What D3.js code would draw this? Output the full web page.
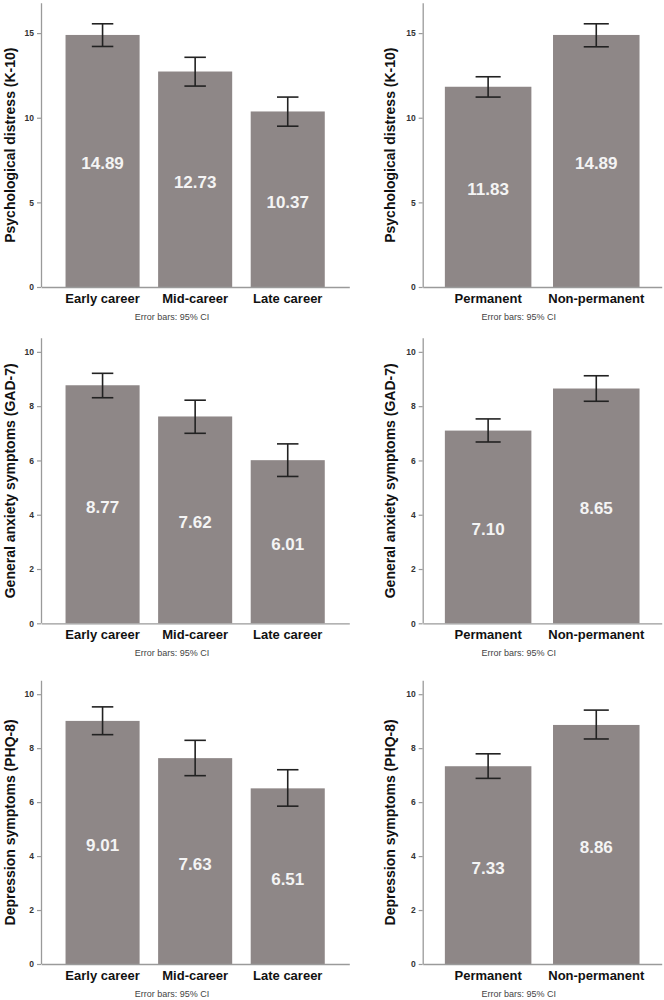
<!DOCTYPE html>
<html>
<head>
<meta charset="utf-8">
<script src="https://cdn.jsdelivr.net/npm/d3@7"></script>
<style>
  html, body { margin: 0; padding: 0; background: #ffffff; }
  svg { display: block; font-family: "Liberation Sans", Arial, sans-serif; }
</style>
</head>
<body>
<svg id="chart" width="664" height="1000"></svg>
<script>
// ---- data ----
const careerCats = ["Early career", "Mid-career", "Late career"];
const employCats = ["Permanent", "Non-permanent"];

const k10Career   = [14.89, 12.73, 10.37];
const k10CareerLo = [14.21, 11.87, 9.50];
const k10CareerHi = [15.55, 13.57, 11.22];
const k10Employ   = [11.83, 14.89];
const k10EmployLo = [11.22, 14.19];
const k10EmployHi = [12.42, 15.55];

const gadCareer   = [8.77, 7.62, 6.01];
const gadCareerLo = [8.31, 7.00, 5.41];
const gadCareerHi = [9.21, 8.22, 6.61];
const gadEmploy   = [7.10, 8.65];
const gadEmployLo = [6.68, 8.18];
const gadEmployHi = [7.53, 9.12];

const phqCareer   = [9.01, 7.63, 6.51];
const phqCareerLo = [8.50, 6.98, 5.85];
const phqCareerHi = [9.53, 8.29, 7.20];
const phqEmploy   = [7.33, 8.86];
const phqEmployLo = [6.88, 8.34];
const phqEmployHi = [7.79, 9.41];

const k10Ticks = [0, 5, 10, 15];
const symTicks = [0, 2, 4, 6, 8, 10];

const k10Title = "Psychological distress (K-10)";
const gadTitle = "General anxiety symptoms (GAD-7)";
const phqTitle = "Depression symptoms (PHQ-8)";
const footnote = "Error bars: 95% CI";

// ---- layout ----
const rows = [
  { top: 3.3,   base: 287,   max: 16.76, ticks: k10Ticks, title: k10Title,
    left:  { v: k10Career, lo: k10CareerLo, hi: k10CareerHi },
    right: { v: k10Employ, lo: k10EmployLo, hi: k10EmployHi } },
  { top: 338.3, base: 623.3, max: 10.5,  ticks: symTicks, title: gadTitle,
    left:  { v: gadCareer, lo: gadCareerLo, hi: gadCareerHi },
    right: { v: gadEmploy, lo: gadEmployLo, hi: gadEmployHi } },
  { top: 680.7, base: 964,   max: 10.5,  ticks: symTicks, title: phqTitle,
    left:  { v: phqCareer, lo: phqCareerLo, hi: phqCareerHi },
    right: { v: phqEmploy, lo: phqEmployLo, hi: phqEmployHi } }
];

const cols = [
  { key: "left",  cats: careerCats, x0: 41,    x1: 349.3, pIn: 0.2, pOut: 0.265, titleX: 10,  noteX: 172 },
  { key: "right", cats: employCats, x0: 422.7, x1: 661.7, pIn: 0.2, pOut: 0.205, titleX: 390, noteX: 518.7 }
];

const barFill = "#8e8787";
const axisCol = "#9a9a9a";

const svg = d3.select("#chart");

rows.forEach(row => {
  cols.forEach(col => {
    const d = row[col.key];
    const g = svg.append("g");
    const x = d3.scaleBand().domain(col.cats).range([col.x0, col.x1])
      .paddingInner(col.pIn).paddingOuter(col.pOut);
    const y = d3.scaleLinear().domain([0, row.max]).range([row.base, row.top]);

    const data = col.cats.map((c, i) => ({ c, v: d.v[i], lo: d.lo[i], hi: d.hi[i] }));

    // bars
    g.selectAll("rect.bar").data(data).enter().append("rect")
      .attr("class", "bar")
      .attr("x", e => x(e.c))
      .attr("width", x.bandwidth())
      .attr("y", e => y(e.v))
      .attr("height", e => y(0) - y(e.v))
      .attr("fill", barFill);

    // y axis
    const ya = g.append("g").attr("transform", `translate(${col.x0},0)`)
      .call(d3.axisLeft(y).tickValues(row.ticks).tickSize(4).tickPadding(3).tickFormat(d3.format("d")));
    ya.select(".domain").attr("stroke", axisCol).attr("stroke-width", 1.3)
      .attr("d", `M0.5,${y(0)}V${row.top}`);
    ya.selectAll(".tick line").attr("stroke", axisCol).attr("stroke-width", 1.2);
    ya.selectAll(".tick text").attr("fill", "#333").attr("font-size", 8.5).attr("font-weight", "bold");

    // x axis line
    const xa = g.append("g").attr("transform", `translate(0,${row.base})`)
      .call(d3.axisBottom(x).tickSize(0).tickPadding(5));
    xa.select(".domain").attr("stroke", axisCol).attr("stroke-width", 1.3);
    xa.selectAll(".tick text").attr("fill", "#111").attr("font-size", 13).attr("font-weight", "bold")
      .attr("dy", null).attr("y", 11).attr("dominant-baseline", "central");

    // error bars
    const cap = x.bandwidth() * 0.29;
    const eb = g.selectAll("g.err").data(data).enter().append("g").attr("class", "err")
      .attr("stroke", "#222").attr("stroke-width", 1.6).attr("fill", "none");
    eb.append("line")
      .attr("x1", e => x(e.c) + x.bandwidth() / 2).attr("x2", e => x(e.c) + x.bandwidth() / 2)
      .attr("y1", e => y(e.hi)).attr("y2", e => y(e.lo));
    eb.append("line")
      .attr("x1", e => x(e.c) + x.bandwidth() / 2 - cap / 2).attr("x2", e => x(e.c) + x.bandwidth() / 2 + cap / 2)
      .attr("y1", e => y(e.hi)).attr("y2", e => y(e.hi));
    eb.append("line")
      .attr("x1", e => x(e.c) + x.bandwidth() / 2 - cap / 2).attr("x2", e => x(e.c) + x.bandwidth() / 2 + cap / 2)
      .attr("y1", e => y(e.lo)).attr("y2", e => y(e.lo));

    // value labels
    g.selectAll("text.val").data(data).enter().append("text")
      .attr("class", "val")
      .attr("x", e => x(e.c) + x.bandwidth() / 2)
      .attr("y", e => (y(e.v) + y(0)) / 2 + 3)
      .attr("text-anchor", "middle").attr("dominant-baseline", "central")
      .attr("fill", "#f4f4f4").attr("font-size", 17).attr("font-weight", "bold")
      .text(e => e.v.toFixed(2));

    // y title
    const cy = (row.top + row.base) / 2;
    g.append("text")
      .attr("transform", `translate(${col.titleX},${cy}) rotate(-90)`)
      .attr("text-anchor", "middle").attr("dominant-baseline", "central")
      .attr("fill", "#111").attr("font-size", 14).attr("font-weight", "bold")
      .text(row.title);

    // footnote
    g.append("text")
      .attr("x", col.noteX).attr("y", row.base + 30)
      .attr("text-anchor", "middle").attr("dominant-baseline", "central")
      .attr("fill", "#444").attr("font-size", 9)
      .text(footnote);
  });
});
</script>
</body>
</html>
